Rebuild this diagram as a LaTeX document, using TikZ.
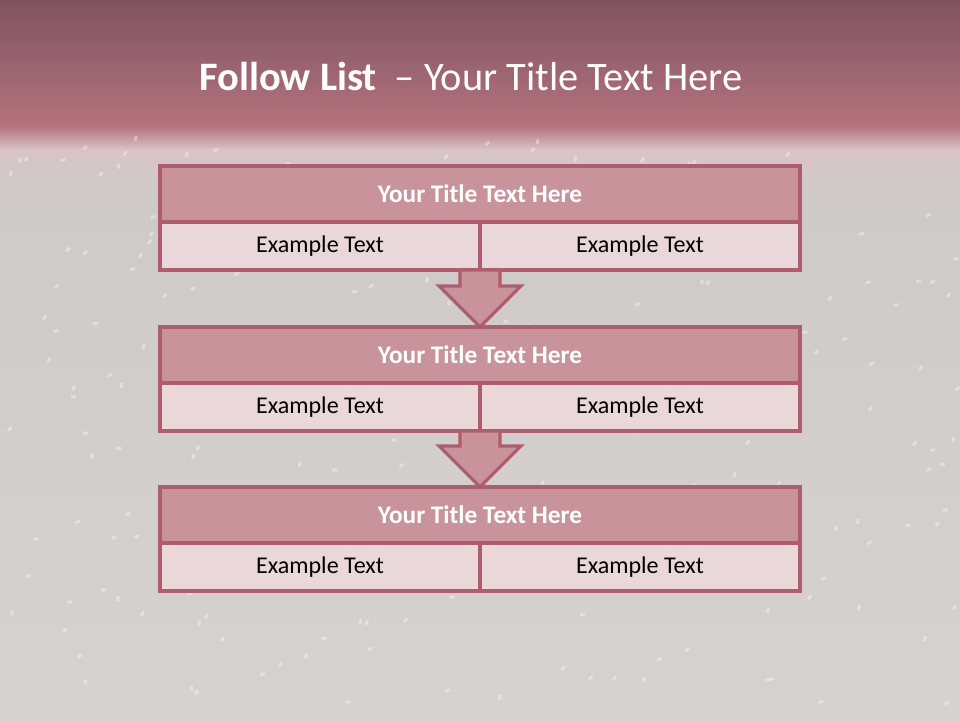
\documentclass[tikz,border=0pt]{standalone}
\usepackage{fontspec}
\setmainfont{Carlito}
\usetikzlibrary{positioning,calc}

\definecolor{bandtop}{HTML}{7E5361}
\definecolor{bandlow}{HTML}{B4737D}
\definecolor{bandhaze}{HTML}{D8C4C7}
\definecolor{slidegray}{HTML}{CECACA}
\definecolor{slidelow}{HTML}{D6D2D2}
\definecolor{boxline}{HTML}{AE5D6C}
\definecolor{headfill}{HTML}{C9939B}
\definecolor{cellfill}{HTML}{E9D7DA}

\begin{document}
\begin{tikzpicture}[x=0.02cm,y=-0.02cm,
  head cell/.style={rectangle,draw=boxline,fill=headfill,line width=1.8pt,outer sep=0pt,minimum width=12.8cm,minimum height=1.12cm,inner sep=0pt,text=white,font=\fontsize{14.4}{16}\selectfont\bfseries},
  text cell/.style={rectangle,draw=boxline,fill=cellfill,line width=1.8pt,outer sep=0pt,minimum width=6.4cm,minimum height=0.96cm,inner sep=0pt,font=\fontsize{13.7}{16}\selectfont},
  flow arrow/.style={draw=boxline,fill=headfill,line width=1.8pt,line join=miter},
  title text/.style={text=white,font=\fontsize{23}{27}\selectfont}]

% background
\useasboundingbox (0,0) rectangle (960,720);
\shade[top color=bandtop,bottom color=bandlow] (0,0) rectangle (960,126);
\shade[top color=bandlow,bottom color=bandhaze] (0,126) rectangle (960,150);
\shade[top color=bandhaze,bottom color=slidegray] (0,150) rectangle (960,200);
\shade[top color=slidegray,bottom color=slidelow] (0,200) rectangle (960,720);
\pgfmathsetseed{42}
\foreach \k in {1,...,220}{
  \pgfmathsetmacro{\px}{rnd*960}
  \pgfmathsetmacro{\py}{140+rnd*570}
  \pgfmathsetmacro{\pa}{rnd*90}
  \fill[white,opacity=0.35,rotate around={\pa:(\px,\py)}] (\px,\py) rectangle ++(5,3);
}

\node[title text] (title) at (471,76) {\textbf{Follow List}\ \ – Your Title Text Here};

% first box
\node[head cell] (h1) at (480,194) {Your Title Text Here};
\node[text cell,below right=0pt and 0pt of h1.south west] (l1) {Example Text};
\node[text cell,right=0pt of l1] (r1) {Example Text};

% second box
\node[head cell,below=1.14cm of l1.south east] (h2) {Your Title Text Here};
\node[text cell,below right=0pt and 0pt of h2.south west] (l2) {Example Text};
\node[text cell,right=0pt of l2] (r2) {Example Text};

% third box
\node[head cell,below=1.12cm of l2.south east] (h3) {Your Title Text Here};
\node[text cell,below right=0pt and 0pt of h3.south west] (l3) {Example Text};
\node[text cell,right=0pt of l3] (r3) {Example Text};

% arrows
\draw[flow arrow] ($(l1.south east)+(-20,0)$) -- ($(h2.north)+(-20,-41)$) -- ($(h2.north)+(-41,-41)$)
  -- (h2.north) -- ($(h2.north)+(41,-41)$) -- ($(h2.north)+(20,-41)$) -- ($(l1.south east)+(20,0)$) -- cycle;
\draw[flow arrow] ($(l2.south east)+(-20,0)$) -- ($(h3.north)+(-20,-41)$) -- ($(h3.north)+(-41,-41)$)
  -- (h3.north) -- ($(h3.north)+(41,-41)$) -- ($(h3.north)+(20,-41)$) -- ($(l2.south east)+(20,0)$) -- cycle;

\end{tikzpicture}
\end{document}
